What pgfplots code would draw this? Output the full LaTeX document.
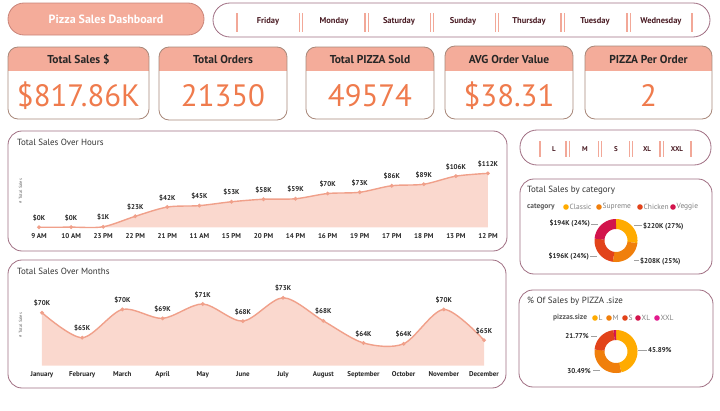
\documentclass[border=0pt]{standalone}
\usepackage{pgfplots}
\pgfplotsset{compat=1.18}
\usepgfplotslibrary{fillbetween,polar}
\usepackage{pgfplotstable}
\usepackage{fontspec}
\setmainfont{PT Sans}

\definecolor{hdr}{HTML}{F4AC9A}
\definecolor{val}{HTML}{EF7B4D}
\definecolor{cardb}{HTML}{A8887A}
\definecolor{panelb}{HTML}{A06E82}
\definecolor{barc}{HTML}{F2A898}
\definecolor{dayt}{HTML}{4A1C24}
\definecolor{linec}{HTML}{F0A08A}
\definecolor{areac}{HTML}{FAD8CE}
\definecolor{cClassic}{HTML}{FFAB00}
\definecolor{cSupreme}{HTML}{F07F0C}
\definecolor{cChicken}{HTML}{E2431A}
\definecolor{cVeggie}{HTML}{D2144C}
\definecolor{cXXL}{HTML}{E21A8E}
\definecolor{titleb}{HTML}{C98479}
\definecolor{lead}{HTML}{A0A0A0}

% Total sales by hour (thousands of $)
\pgfplotstableread{
x y
0 0.083
1 0.304
2 1.121
3 22.815
4 42.030
5 44.935
6 52.992
7 58.215
8 59.202
9 70.055
10 72.628
11 86.237
12 89.296
13 106.066
14 111.877
}\hours

% Total sales by month (thousands of $)
\pgfplotstableread{
x y
0 69.793
1 65.160
2 70.397
3 68.737
4 71.403
5 68.230
6 72.558
7 68.278
8 64.180
9 64.028
10 70.395
11 64.701
}\months

\pgfplotsset{
  salesline/.style={color=linec, line width=1.4bp, smooth, tension=0.5,
    mark=*, mark size=1.1bp, mark options={fill=linec, draw=linec},
    point meta=y,
    nodes near coords={\$\pgfmathprintnumber[fixed,precision=0]{\pgfplotspointmeta}K},
    nodes near coords style={font=\fontsize{7}{8}\selectfont\bfseries, text=black!85,
      anchor=south, inner sep=0pt, yshift=5.5bp}},
  dashaxis/.style={scale only axis, clip=false, axis line style={draw=none},
    tick style={draw=none}, ytick=\empty,
    xticklabel style={font=\fontsize{7}{8}\selectfont\bfseries, text=black!85, yshift=-2.5bp},
    /pgf/number format/assume math mode=true},
  donut/.style={hide axis, scale only axis, width=43bp, height=43bp, ymin=0, ymax=21.5, clip=false},
  slice/.style={line width=10bp, samples=40, no marks}
}

\newcommand\kpi[6]{%
  \begin{scope}
    \clip[rounded corners=10bp] (#1,#2) rectangle (#3,#4);
    \fill[hdr] (#1,#2) rectangle (#3,71);
  \end{scope}
  \draw[cardb, line width=0.8bp, rounded corners=10bp] (#1,#2) rectangle (#3,#4);
  \node[font=\fontsize{11.5}{12}\selectfont\bfseries, text=black!85] at ({(#1+#3)/2},59.5) {#5};
  \node[font=\fontsize{31}{32}\selectfont, text=val] at ({(#1+#3)/2},96) {#6};
}

\begin{document}
\begin{tikzpicture}
\begin{scope}[x=1bp,y=-1bp]
  % title
  \draw[titleb, fill=hdr, line width=0.8bp, rounded corners=16bp] (8,3) rectangle (204,35);
  \node[font=\fontsize{12}{13}\selectfont\bfseries, text=white] at (106,19) {Pizza Sales Dashboard};
  % day slicer
  \draw[panelb, line width=0.8bp, rounded corners=17bp] (213,3) rectangle (710,37);
  \foreach \bx in {237,692} {\draw[barc, line width=1.6bp] (\bx,13) -- (\bx,32);}
  \foreach \bx in {301,366.5,432,497,562.5,628.5} {
    \draw[barc, line width=1.4bp] (\bx-1.7,13) -- (\bx-1.7,32);
    \draw[barc, line width=1.4bp] (\bx+1.7,13) -- (\bx+1.7,32);}
  \foreach \tx/\tt in {268/Friday,334/Monday,399/Saturday,463/Sunday,529/Thursday,595/Tuesday,661/Wednesday}
    {\node[font=\fontsize{8.5}{9}\selectfont\bfseries, text=dayt] at (\tx,21.5) {\tt};}
  % KPI cards
  \kpi{8}{47}{149}{119}{Total Sales \$}{\$817.86K}
  \kpi{159}{47}{287}{120}{Total Orders}{21350}
  \kpi{306}{47}{434}{119}{Total PIZZA Sold}{49574}
  \kpi{445}{46}{573}{119}{AVG Order Value}{\$38.31}
  \kpi{585}{46}{712}{119}{PIZZA Per Order}{2}
  % panels
  \draw[panelb, line width=0.8bp, rounded corners=14bp] (8,131) rectangle (507,251);
  \draw[panelb, line width=0.8bp, rounded corners=14bp] (8,260) rectangle (506,388);
  \draw[panelb, line width=0.8bp, rounded corners=17bp] (520,130) rectangle (711,165);
  \draw[panelb, line width=0.8bp, rounded corners=14bp] (520,179) rectangle (712,274);
  \draw[panelb, line width=0.8bp, rounded corners=14bp] (519,290) rectangle (713,387);
  % panel titles
  \node[anchor=west, font=\fontsize{9}{10}\selectfont, text=black!80, inner sep=0] at (17,142) {Total Sales Over Hours};
  \node[anchor=west, font=\fontsize{9}{10}\selectfont, text=black!80, inner sep=0] at (17,271.5) {Total Sales Over Months};
  \node[anchor=west, font=\fontsize{9}{10}\selectfont, text=black!80, inner sep=0] at (527,190.5) {Total Sales by category};
  \node[anchor=west, font=\fontsize{9}{10}\selectfont, text=black!80, inner sep=0] at (527,301) {\% Of Sales by PIZZA .size};
  \node[rotate=90, font=\fontsize{4.5}{5}\selectfont, text=black!60] at (20.5,191) {\# Total Sales};
  \node[rotate=90, font=\fontsize{4.5}{5}\selectfont, text=black!60] at (20.5,325) {\# Total Sales};
  % size slicer
  \foreach \bx in {540,691} {\draw[barc, line width=1.6bp] (\bx,141) -- (\bx,157);}
  \foreach \bx in {567.5,600,631,661.5} {
    \draw[barc, line width=1.4bp] (\bx-1.7,141) -- (\bx-1.7,157);
    \draw[barc, line width=1.4bp] (\bx+1.7,141) -- (\bx+1.7,157);}
  \foreach \tx/\tt in {554/L,585/M,616/S,647/XL,677/XXL}
    {\node[font=\fontsize{7}{8}\selectfont\bfseries, text=dayt] at (\tx,149) {\tt};}
  % legends
  \node[anchor=west, font=\fontsize{7.5}{8}\selectfont\bfseries, text=black!65, inner sep=0] at (527,207) {category};
  \foreach \dx/\dc/\dt in {566/cClassic/Classic,599/cSupreme/Supreme,640/cChicken/Chicken,673/cVeggie/Veggie} {
    \fill[\dc] (\dx,207) circle (2.8bp);
    \node[anchor=west, font=\fontsize{7.5}{8}\selectfont, text=black!50, inner sep=0] at (\dx+3.5,207) {\dt};}
  \node[anchor=west, font=\fontsize{7.5}{8}\selectfont\bfseries, text=black!65, inner sep=0] at (553,318) {pizzas.size};
  \foreach \dx/\dc/\dt in {595/cClassic/L,609/cSupreme/M,625/cChicken/S,638/cVeggie/XL,657/cXXL/XXL} {
    \fill[\dc] (\dx,318) circle (2.8bp);
    \node[anchor=west, font=\fontsize{7.5}{8}\selectfont, text=black!50, inner sep=0] at (\dx+3.5,318) {\dt};}
\end{scope}

% Sales over hours
\begin{axis}[dashaxis, at={(23bp,-227.3bp)}, anchor=south west,
  width=481bp, height=62.7bp, xmin=-0.5, xmax=14.5, ymin=0, ymax=130,
  xtick={0,...,14},
  xticklabels={9 AM,10 AM,23 PM,22 PM,21 PM,11 AM,15 PM,20 PM,14 PM,16 PM,19 PM,17 PM,18 PM,13 PM,12 PM}]
  \addplot[draw=none, name path=h, smooth, tension=0.5, forget plot] table[x=x,y=y]{\hours};
  \path[name path=hb] (axis cs:0,0) -- (axis cs:14,0);
  \addplot[fill=areac, draw=none] fill between[of=h and hb];
  \addplot[salesline] table[x=x,y=y]{\hours};
\end{axis}

% Sales over months
\begin{axis}[dashaxis, at={(21.9bp,-365.5bp)}, anchor=south west,
  width=482.2bp, height=86.3bp, xmin=-0.5, xmax=11.5, ymin=60, ymax=76,
  xtick={0,...,11},
  xticklabels={January,February,March,April,May,June,July,August,September,October,November,December}]
  \addplot[draw=none, name path=m, smooth, tension=0.5, forget plot] table[x=x,y=y]{\months};
  \path[name path=mb] (axis cs:0,60) -- (axis cs:11,60);
  \addplot[fill=areac, draw=none] fill between[of=m and mb];
  \addplot[salesline] table[x=x,y=y]{\months};
\end{axis}

% Sales by category donut: Classic 220.05K, Supreme 208.20K, Chicken 195.92K, Veggie 193.69K
\begin{polaraxis}[donut, at={(616bp,-240.5bp)}, anchor=center]
  \addplot[slice, cClassic, domain=90:-6.86] {16.5};
  \addplot[slice, cSupreme, domain=-6.86:-98.50] {16.5};
  \addplot[slice, cChicken, domain=-98.50:-184.74] {16.5};
  \addplot[slice, cVeggie, domain=-184.74:-270] {16.5};
\end{polaraxis}

% Sales by size donut: L 45.89, M 30.49, S 21.77, XL 1.72, XXL 0.12 (%)
\begin{polaraxis}[donut, at={(616bp,-351.5bp)}, anchor=center]
  \addplot[slice, cClassic, domain=90:-75.20] {16.5};
  \addplot[slice, cSupreme, domain=-75.20:-184.96] {16.5};
  \addplot[slice, cChicken, domain=-184.96:-263.33] {16.5};
  \addplot[slice, cVeggie, domain=-263.33:-269.52] {16.5};
  \addplot[slice, cXXL, domain=-269.52:-270] {16.5};
\end{polaraxis}

\begin{scope}[x=1bp,y=-1bp]
  \tikzset{dl/.style={font=\fontsize{7}{8}\selectfont\bfseries, text=black!85, inner sep=0}}
  \draw[lead, line width=0.5bp] (591,224) -- (598,224);
  \node[dl, anchor=east] at (590,223) {\$194K (24\%)};
  \draw[lead, line width=0.5bp] (634,225) -- (642,225);
  \node[dl, anchor=west] at (643,226) {\$220K (27\%)};
  \draw[lead, line width=0.5bp] (590,256) -- (597,256);
  \node[dl, anchor=east] at (589,256) {\$196K (24\%)};
  \draw[lead, line width=0.5bp] (634,260) -- (639,260);
  \node[dl, anchor=west] at (640,261) {\$208K (25\%)};
  \draw[lead, line width=0.5bp] (591,336) -- (597,336);
  \node[dl, anchor=east] at (589,336) {21.77\%};
  \draw[lead, line width=0.5bp] (638,350) -- (647,350);
  \node[dl, anchor=west] at (648,350) {45.89\%};
  \draw[lead, line width=0.5bp] (593,370) -- (600,370);
  \node[dl, anchor=east] at (591,371) {30.49\%};
\end{scope}
\pgfresetboundingbox
\useasboundingbox (0,0) rectangle (720bp,-411bp);
\end{tikzpicture}
\end{document}
